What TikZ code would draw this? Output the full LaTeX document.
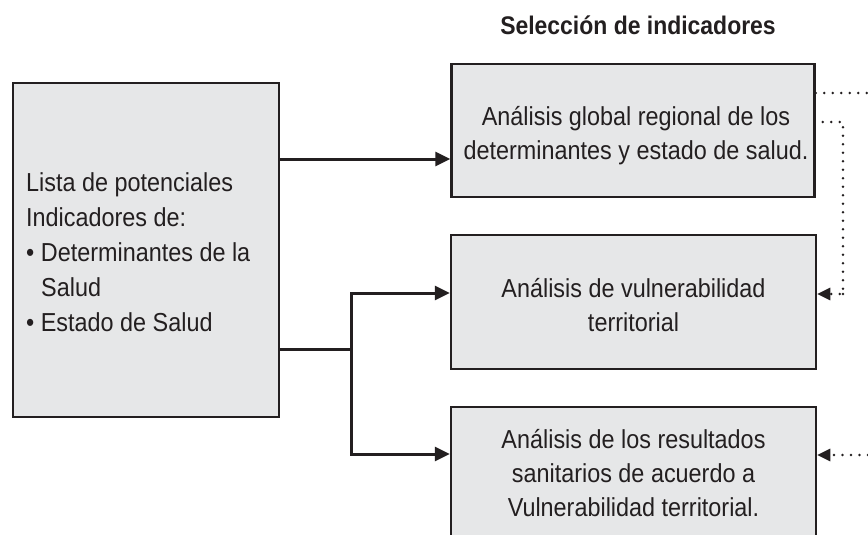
\documentclass[tikz,border=0pt]{standalone}
\usepackage{fontspec}
\setmainfont{Liberation Sans}
\newfontfamily\condfont[FakeStretch=0.9]{Liberation Sans}
\usetikzlibrary{arrows.meta,calc}
\definecolor{ink}{HTML}{231F20}
\definecolor{boxfill}{HTML}{E6E7E8}
\begin{document}
\begin{tikzpicture}[x=1pt,y=-1pt,
  box/.style={draw=ink, fill=boxfill, line width=2.5pt, inner sep=0pt},
  boxtext/.style={text=ink, inner sep=0pt, anchor=base,
    font=\condfont\fontsize{26}{34}\selectfont},
  conn/.style={draw=ink, line width=3pt, -{Triangle[length=15pt,width=14pt]}},
  plainline/.style={draw=ink, line width=3pt},
  dots/.style={draw=ink, line width=2.6pt, dash pattern=on 0pt off 8.5pt, line cap=round},
  dotarrow/.style={dots, -{Triangle[length=13pt,width=12pt]}}]
\useasboundingbox (0,0) rectangle (868,535);
\begin{scope}
\clip (0,0) rectangle (868,535);
\fill[white] (0,0) rectangle (868,535);

\node[boxtext, font=\condfont\bfseries\fontsize{25.5}{30}\selectfont] (title) at (638,35) {Selección de indicadores};

% boxes
\node[box, minimum width=266pt, minimum height=334pt] (L) at (146,250) {};
\node[box, minimum width=363pt, minimum height=133pt] (b1) at (633,130.5) {};
\node[box, minimum width=365pt, minimum height=134pt] (b2) at (633.5,302) {};
\node[box, minimum width=365pt, minimum height=152pt] (b3) at (633.5,483) {};

% texts
\node[boxtext, anchor=base west, font=\condfont\fontsize{26}{35}\selectfont] (Lt) at (26,191)
  {\begin{tabular}[t]{@{}l@{}}Lista de potenciales\\Indicadores de:\\\textbullet\ Determinantes de la\\\hspace*{15pt}Salud\\\textbullet\ Estado de Salud\end{tabular}};
\node[boxtext] (t1) at (636,125)
  {\begin{tabular}[t]{@{}c@{}}Análisis global regional de los\\determinantes y estado de salud.\end{tabular}};
\node[boxtext] (t2) at (633.5,297)
  {\begin{tabular}[t]{@{}c@{}}Análisis de vulnerabilidad\\territorial\end{tabular}};
\node[boxtext] (t3) at (633.5,448)
  {\begin{tabular}[t]{@{}c@{}}Análisis de los resultados\\sanitarios de acuerdo a\\Vulnerabilidad territorial.\end{tabular}};

% solid connectors
\draw[conn] (L.east |- 0,159) -- (b1.west |- 0,159);
\coordinate (j) at (351,349);
\draw[plainline] (L.east |- j) -- (j);
\draw[conn] (j) |- (b2.west |- 0,293);
\draw[conn] (j) |- (b3.west |- 0,454);

% dotted connectors
\coordinate (e1) at (868,93);
\draw[dots] (b1.east |- e1) -- (e1);
\coordinate (s2) at ($(b1.east |- 0,122)+(7,0)$);
\coordinate (c2) at (843,122);
\draw[dotarrow] (s2) -- (c2) |- (b2.east |- 0,294);
\draw[dots] (843,294) -- (843,302);
\coordinate (e3) at (868,455);
\draw[dotarrow] (e3) -- (b3.east |- e3);
\end{scope}
\end{tikzpicture}
\end{document}
